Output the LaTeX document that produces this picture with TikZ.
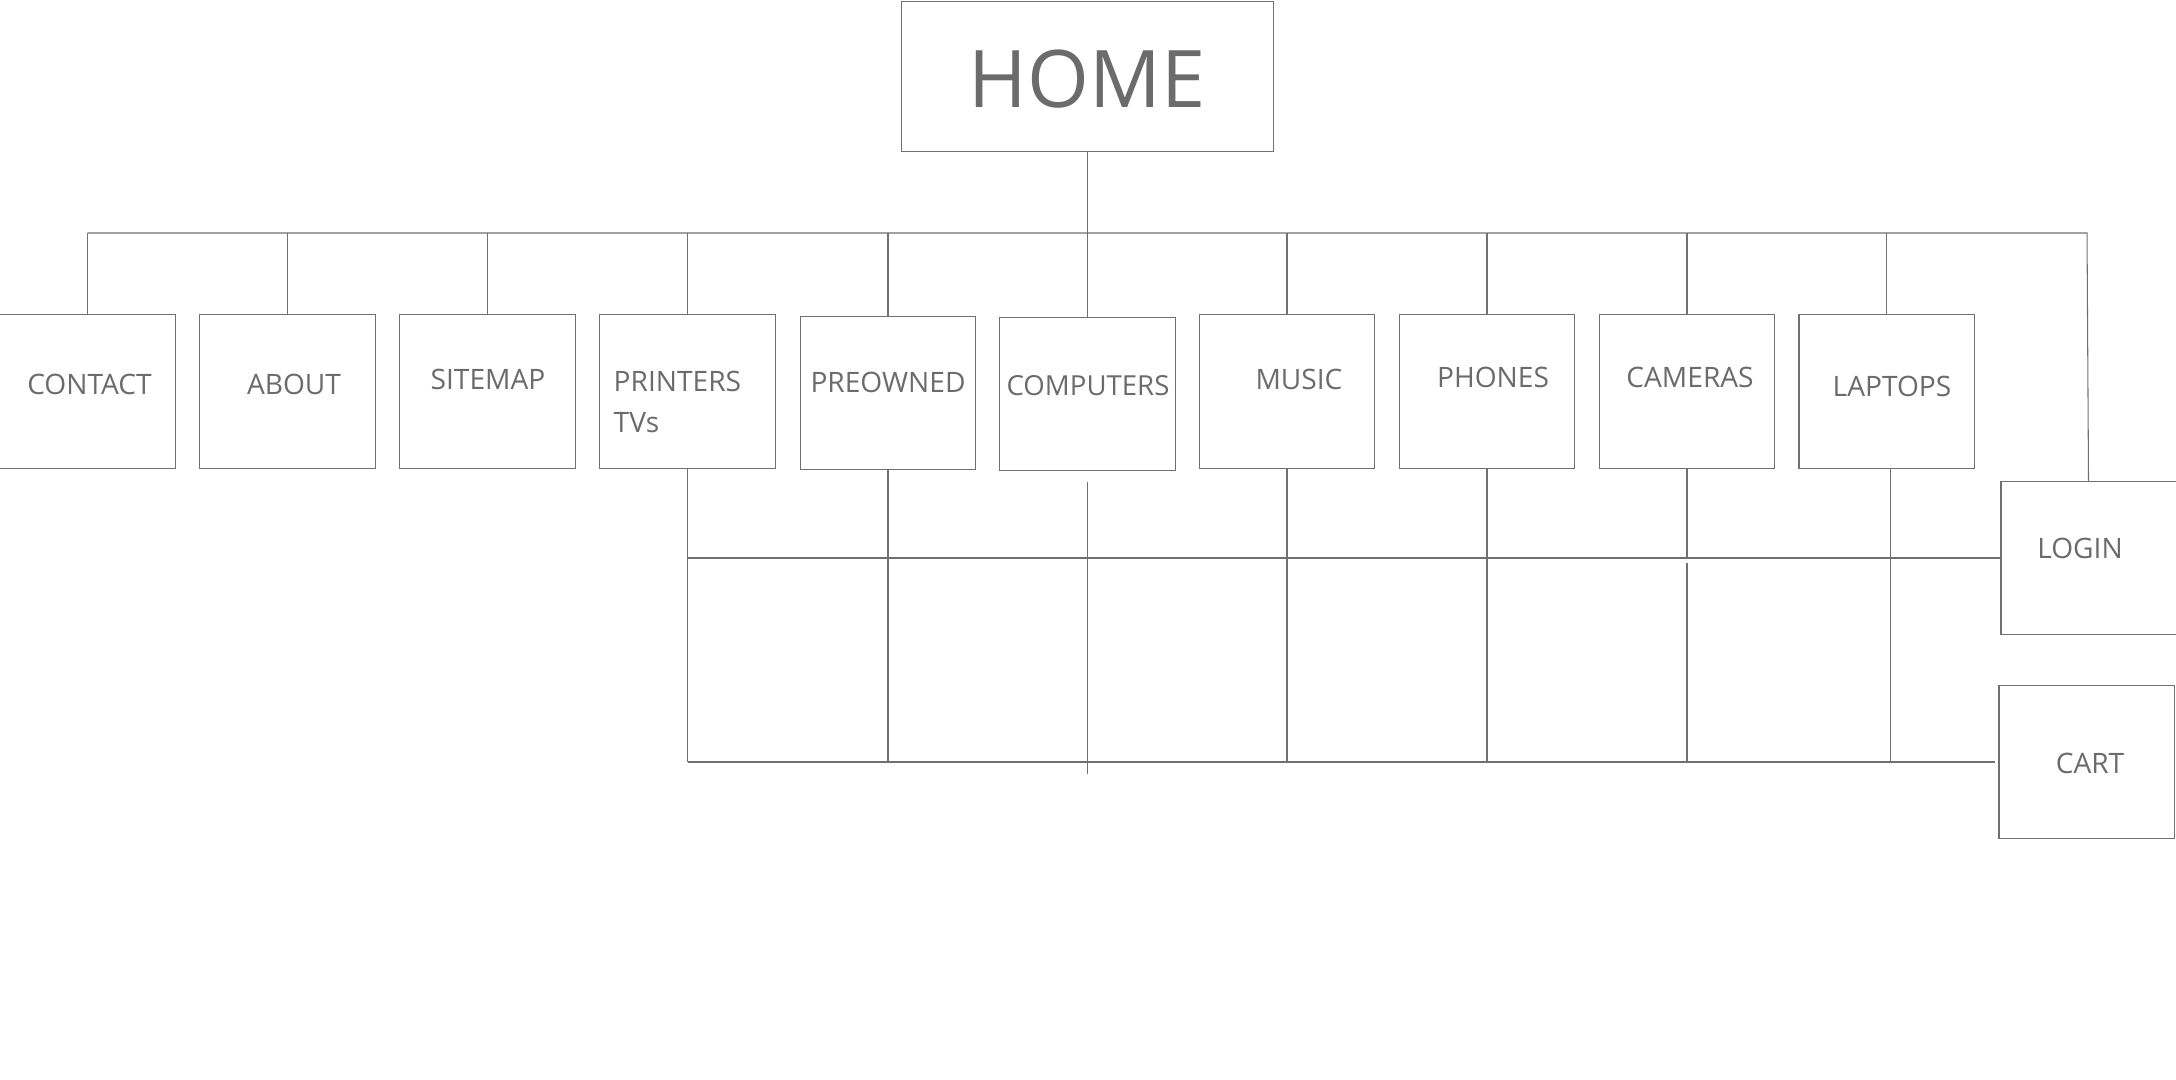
\documentclass[tikz,border=0pt]{standalone}
\usepackage{fontspec}
\setmainfont{Open Sans}
\definecolor{linegray}{HTML}{707070}
\definecolor{textgray}{HTML}{6B6B6B}

\begin{document}
\begin{tikzpicture}
	  [
	    x                   = 0.01cm,
	    y                   = -0.01cm,
	    box/.style          = {draw=linegray, line width=0.3pt, rectangle, inner sep=0pt,
	                           minimum width=1.75cm, minimum height=1.53cm},
	    wire/.style         = {draw=linegray, line width=0.3pt},
	    caption/.style      = {text=textgray, inner sep=0pt, font=\fontsize{8}{11.4}\selectfont},
	    bigcaption/.style   = {caption, font=\fontsize{22.6}{27}\selectfont}
		]
		\useasboundingbox (0,0) rectangle (2176,1080);
		\node [box, minimum width=3.71cm, minimum height=1.495cm] (home) at (1087.5,76.5) {};
		\node [box] (contact)   at (87.5,391.5) {};
		\node [box] (about)     at (287.5,391.5) {};
		\node [box] (sitemap)   at (487.5,391.5) {};
		\node [box] (printers)  at (687.5,391.5) {};
		\node [box] (preowned)  at (888,392.7) {};
		\node [box] (computers) at (1087.5,394) {};
		\node [box] (music)     at (1287,391.5) {};
		\node [box] (phones)    at (1487,391.5) {};
		\node [box] (cameras)   at (1687,391.5) {};
		\node [box] (laptops)   at (1886.5,391.5) {};
		\node [box] (login)     at (2088.5,558) {};
		\node [box] (cart)      at (2086.5,762) {};
		\node [bigcaption] (homelbl) at (1087,79) {HOME};
		\node [caption] (contactlbl)   at (89.5,384) {CONTACT};
		\node [caption] (aboutlbl)     at (294,384) {ABOUT};
		\node [caption] (sitemaplbl)   at (488,379) {SITEMAP};
		\node [caption, align=left, anchor=west] (printerslbl) at (613,402) {PRINTERS\\TVs};
		\node [caption] (preownedlbl)  at (888,382) {PREOWNED};
		\node [caption, font=\fontsize{7.85}{11}\selectfont] (computerslbl) at (1088,386) {COMPUTERS};
		\node [caption] (musiclbl)     at (1299,379) {MUSIC};
		\node [caption] (phoneslbl)    at (1493,377) {PHONES};
		\node [caption] (cameraslbl)   at (1690,377) {CAMERAS};
		\node [caption] (laptopslbl)   at (1892,386) {LAPTOPS};
		\node [caption] (loginlbl)     at (2080,548) {LOGIN};
		\node [caption] (cartlbl)      at (2090,763) {CART};
		\coordinate (busL) at (87.5,233);
		\coordinate (busR) at (2087,233);
		\coordinate (rowA) at (687.5,558);
		\coordinate (rowB) at (687.5,762);
		\draw [wire] (home.south) -- (home.south |- busL);
		\draw [wire] (busL) -- (busR) -- (login.north);
		\foreach \n in {contact,about,sitemap,printers,preowned,computers,music,phones,cameras,laptops}
			\draw [wire] (\n.north) -- (\n.north |- busL);
		\draw [wire] (rowA) -- (login.west);
		\draw [wire] (rowB) -- ([xshift=-0.03cm]cart.west);
		\foreach \n in {printers,preowned,music,phones}
			\draw [wire] (\n.south) -- (\n.south |- rowB);
		\draw [wire] ([xshift=0.04cm]laptops.south) -- ([xshift=0.04cm]laptops.south |- rowB);
		\draw [wire] (cameras.south) -- (cameras.south |- rowA);
		\draw [wire] ([yshift=-0.054cm]cameras.south |- rowA) -- (cameras.south |- rowB);
		\draw [wire] ([yshift=-0.11cm]computers.south) -- ([yshift=-0.12cm]computers.south |- rowB);
	\end{tikzpicture}
\end{document}
